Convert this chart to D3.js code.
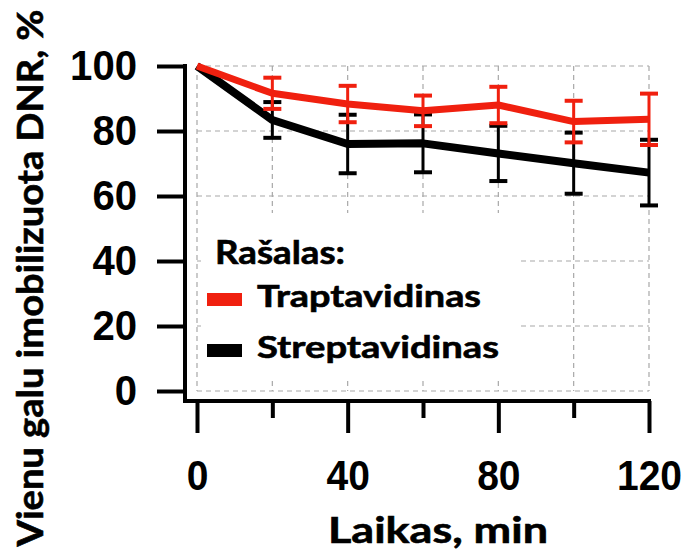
<!DOCTYPE html>
<html>
<head>
<meta charset="utf-8">
<script src="https://cdn.jsdelivr.net/npm/d3@7"></script>
<style>
  body { margin: 0; background: #fff; }
  .tick text { font-family: "Liberation Sans", Arial, sans-serif; font-weight: bold; fill: #000; }
  .title { font-family: Lato, "Open Sans", sans-serif; font-weight: 700; fill: #000; stroke: #000; stroke-width: 0.6px; }
</style>
</head>
<body>
<div id="chart"></div>
<script>
// time points (min) and measured fraction of single-end immobilized DNA (%)
const timeMin = [0, 20, 40, 60, 80, 100, 120];
const trapMean = [100, 91.6, 88.3, 86.2, 88.0, 82.9, 83.6];
const trapErr = [0, 4.8, 5.6, 4.7, 5.6, 6.4, 7.9];
const strepMean = [100, 83.4, 76.0, 76.2, 73.1, 70.1, 67.2];
const strepErr = [0, 5.5, 9.0, 8.9, 8.5, 9.4, 10.1];

const xTicks = [0, 20, 40, 60, 80, 100, 120];
const xLabels = [0, 40, 80, 120];
const yTicks = [0, 20, 40, 60, 80, 100];

const legendTitle = "Rašalas:";
const seriesNames = ["Traptavidinas", "Streptavidinas"];
const seriesColors = ["#f0200f", "#000000"];

const width = 691, height = 550;

const svg = d3.select("#chart").append("svg")
    .attr("width", width)
    .attr("height", height);

const x = d3.scaleLinear().domain([0, 120]).range([197, 649]);
const y = d3.scaleLinear().domain([0, 100]).range([391, 66]);

const axisY = 401;   // position of bottom axis line
const spineX = 185;  // position of left axis line

// dashed grid
const grid = svg.append("g").attr("stroke", "#a8a8a8").attr("stroke-width", 1.2)
    .attr("stroke-dasharray", "5,4");
grid.selectAll(".gy").data(yTicks).enter().append("line")
    .attr("x1", x(0)).attr("x2", x(120))
    .attr("y1", d => y(d)).attr("y2", d => y(d));
grid.selectAll(".gx").data(xTicks).enter().append("line")
    .attr("x1", d => x(d)).attr("x2", d => x(d))
    .attr("y1", y(100)).attr("y2", y(0));

// legend (white box hides the grid behind it)
const legend = svg.append("g").attr("transform", "translate(207,213)");
legend.append("rect")
    .attr("x", -6).attr("y", 0).attr("width", 318).attr("height", 167)
    .attr("fill", "#fff");
legend.append("text").attr("class", "title")
    .attr("x", 8).attr("y", 51)
    .attr("font-size", 32)
    .attr("textLength", 130).attr("lengthAdjust", "spacingAndGlyphs")
    .text(legendTitle);
const items = legend.selectAll(".item").data(seriesNames).enter().append("g")
    .attr("transform", (d, i) => `translate(0,${80 + i * 51})`);
items.append("rect")
    .attr("x", 0).attr("y", 0).attr("width", 35).attr("height", 13)
    .attr("fill", (d, i) => seriesColors[i]);
items.append("text").attr("class", "title")
    .attr("x", 50).attr("y", 14)
    .attr("font-size", 31)
    .attr("textLength", (d, i) => i === 0 ? 224 : 242)
    .attr("lengthAdjust", "spacingAndGlyphs")
    .text(d => d);

// axes
const yAxis = d3.axisLeft(y).tickValues(yTicks).tickSize(28).tickSizeOuter(0).tickPadding(20);
const gy = svg.append("g").attr("transform", `translate(${spineX},0)`).call(yAxis);
gy.select(".domain").remove();
gy.selectAll(".tick line").attr("stroke", "#000").attr("stroke-width", 4);
gy.selectAll(".tick text")
    .attr("font-size", 43)
    .attr("textLength", d => String(d).length * 22.3)
    .attr("lengthAdjust", "spacingAndGlyphs");

const xAxis = d3.axisBottom(x).tickValues(xTicks).tickSize(32).tickSizeOuter(0).tickPadding(26)
    .tickFormat(d => xLabels.includes(d) ? d : "");
const gx = svg.append("g").attr("transform", `translate(0,${axisY})`).call(xAxis);
gx.select(".domain").remove();
gx.selectAll(".tick line").attr("stroke", "#000").attr("stroke-width", 4)
    .attr("y2", d => xLabels.includes(d) ? 32 : 17);
gx.selectAll(".tick text")
    .attr("font-size", 43)
    .attr("textLength", d => String(d).length * 21.7)
    .attr("lengthAdjust", "spacingAndGlyphs");

svg.append("path")
    .attr("d", `M${spineX},${y(100) - 2}V${axisY}H${x(120) + 2}`)
    .attr("fill", "none").attr("stroke", "#000").attr("stroke-width", 4);

// series: black first, red on top
const series = [
  { mean: strepMean, err: strepErr, color: seriesColors[1], w: 8 },
  { mean: trapMean, err: trapErr, color: seriesColors[0], w: 7 }
];

const line = d3.line().x((d, i) => x(timeMin[i])).y(d => y(d));

series.forEach(s => {
  const pts = timeMin.map((t, i) => ({ t: t, m: s.mean[i], e: s.err[i] })).filter(p => p.e > 0);
  const g = svg.append("g").attr("stroke", s.color).attr("fill", "none");

  g.selectAll(".stem").data(pts).enter().append("line")
      .attr("stroke-width", 3)
      .attr("x1", d => x(d.t)).attr("x2", d => x(d.t))
      .attr("y1", d => y(d.m + d.e)).attr("y2", d => y(d.m - d.e));
  g.selectAll(".cap").data(pts.flatMap(p => [p.m + p.e, p.m - p.e].map(v => ({ t: p.t, v: v }))))
    .enter().append("line")
      .attr("stroke-width", 4)
      .attr("x1", d => x(d.t) - 9).attr("x2", d => x(d.t) + 9)
      .attr("y1", d => y(d.v)).attr("y2", d => y(d.v));

  g.append("path")
      .datum(s.mean)
      .attr("stroke-width", s.w)
      .attr("stroke-linejoin", "round")
      .attr("d", line);
});

// axis titles
svg.append("text").attr("class", "title")
    .attr("x", 438).attr("y", 543)
    .attr("text-anchor", "middle")
    .attr("font-size", 36)
    .attr("textLength", 220).attr("lengthAdjust", "spacingAndGlyphs")
    .text("Laikas, min");

svg.append("text").attr("class", "title")
    .attr("transform", "translate(43,278) rotate(-90)")
    .attr("text-anchor", "middle")
    .attr("font-size", 37)
    .attr("textLength", 537).attr("lengthAdjust", "spacingAndGlyphs")
    .text("Vienu galu imobilizuota DNR, %");
</script>
</body>
</html>
